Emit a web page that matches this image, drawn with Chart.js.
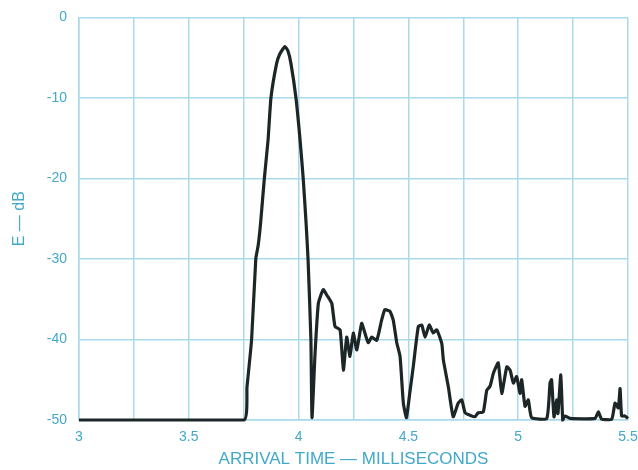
<!DOCTYPE html>
<html>
<head>
<meta charset="utf-8">
<script src="https://cdn.jsdelivr.net/npm/chart.js@4.4.1/dist/chart.umd.min.js"></script>
<style>
  html, body { margin: 0; padding: 0; background: #ffffff; }
  #wrap { width: 638px; height: 470px; }
</style>
</head>
<body>
<div id="wrap"><canvas id="arrivalChart" width="638" height="470"></canvas></div>
<script>
// arrival time (ms) and energy level (dB)
const arrivalTime = [
  3.000, 3.751, 3.765, 3.786, 3.805, 3.816, 3.827, 3.844, 3.861, 3.874,
  3.900, 3.915, 3.938, 3.952, 3.965, 3.988, 4.006, 4.021, 4.034, 4.043,
  4.056, 4.061, 4.075, 4.090, 4.112, 4.129, 4.151, 4.166, 4.189, 4.204,
  4.219, 4.234, 4.249, 4.265, 4.287, 4.302, 4.317, 4.333, 4.356, 4.378,
  4.393, 4.416, 4.431, 4.447, 4.462, 4.477, 4.491, 4.507, 4.522, 4.545,
  4.561, 4.576, 4.595, 4.613, 4.629, 4.652, 4.659, 4.682, 4.704, 4.727,
  4.743, 4.758, 4.780, 4.803, 4.818, 4.841, 4.857, 4.872, 4.887, 4.909,
  4.925, 4.948, 4.963, 4.978, 4.993, 5.008, 5.016, 5.031, 5.046, 5.061,
  5.130, 5.145, 5.152, 5.163, 5.175, 5.181, 5.194, 5.203, 5.213, 5.236,
  5.350, 5.365, 5.380, 5.426, 5.441, 5.456, 5.464, 5.471, 5.486, 5.500
];
const level = [
  -50.0, -50.0, -45.9, -40.0, -30.0, -28.3, -25.5, -20.0, -15.2, -10.0,
  -5.7, -4.5, -3.6, -4.2, -5.7, -10.0, -15.0, -20.0, -25.5, -30.0,
  -40.0, -49.7, -41.7, -35.5, -33.8, -34.5, -35.5, -38.4, -38.8, -43.8,
  -39.7, -42.1, -39.2, -41.3, -38.0, -39.2, -40.4, -39.7, -40.1, -37.6,
  -36.3, -36.5, -37.6, -40.4, -42.1, -47.9, -49.7, -46.5, -43.4, -38.4,
  -38.2, -39.7, -38.2, -39.2, -38.8, -40.5, -42.5, -45.9, -49.6, -47.9,
  -47.5, -49.1, -49.4, -49.6, -49.1, -49.0, -46.3, -45.8, -44.2, -42.9,
  -46.7, -43.4, -43.8, -45.4, -44.6, -46.7, -45.0, -48.3, -47.5, -49.7,
  -49.8, -45.4, -45.0, -49.6, -47.5, -49.2, -44.4, -50.0, -49.5, -49.8,
  -49.8, -49.0, -49.9, -49.9, -47.9, -48.5, -46.1, -49.5, -49.5, -49.8
];
const xLabels = ["3", "3.5", "4", "4.5", "5", "5.5"];

const points = arrivalTime.map((t, i) => ({ x: t, y: level[i] }));

const gridBlue = "#a9d9ea";
const textBlue = "#42a9ca";

let ctx = document.getElementById('arrivalChart').getContext('2d');

let arrivalChart = new Chart(ctx, {
  type: "line",
  data: {
    datasets: [{
      data: points,
      borderColor: "#1d2626",
      borderWidth: 3.2,
      pointRadius: 0,
      tension: 0.15,
      fill: false,
      clip: false,
    }]
  },
  options: {
    responsive: false,
    animation: false,
    layout: {
      padding: { left: 0, right: 10, top: 17.5, bottom: 0 },
    },
    plugins: {
      legend: { display: false },
      tooltip: { enabled: false },
    },
    scales: {
      x: {
        type: "linear",
        min: 3,
        max: 5.5,
        afterFit: (scale) => {
          scale.height = 50;
          scale.paddingLeft = 0;
          scale.paddingRight = 0;
        },
        grid: {
          color: gridBlue,
          lineWidth: 1.5,
          drawTicks: false,
        },
        border: { color: gridBlue, width: 1.5 },
        ticks: {
          stepSize: 0.25,
          autoSkip: false,
          maxRotation: 0,
          padding: 9,
          color: textBlue,
          font: { family: "'Liberation Sans', sans-serif", size: 14 },
          callback: function (value) {
            const k = Math.round((value - 3) / 0.5);
            if (Math.abs(value - 3 - k * 0.5) > 1e-6) return "";
            return xLabels[k];
          },
        },
        title: {
          display: true,
          text: "ARRIVAL TIME \u2014 MILLISECONDS",
          color: textBlue,
          padding: { top: 3, bottom: 0 },
          font: { family: "'Liberation Sans', sans-serif", size: 17 },
        },
      },
      y: {
        min: -50,
        max: 0,
        afterFit: (scale) => {
          scale.width = 79;
          scale.paddingTop = 0;
          scale.paddingBottom = 0;
        },
        grid: {
          color: gridBlue,
          lineWidth: 1.5,
          drawTicks: false,
        },
        border: { color: gridBlue, width: 1.5 },
        ticks: {
          stepSize: 10,
          padding: 12,
          color: textBlue,
          font: { family: "'Liberation Sans', sans-serif", size: 14 },
        },
        title: {
          display: true,
          text: "E \u2014 dB",
          color: textBlue,
          padding: { top: 10, bottom: 0 },
          font: { family: "'Liberation Sans', sans-serif", size: 16 },
        },
      },
    },
  },
});
</script>
</body>
</html>
